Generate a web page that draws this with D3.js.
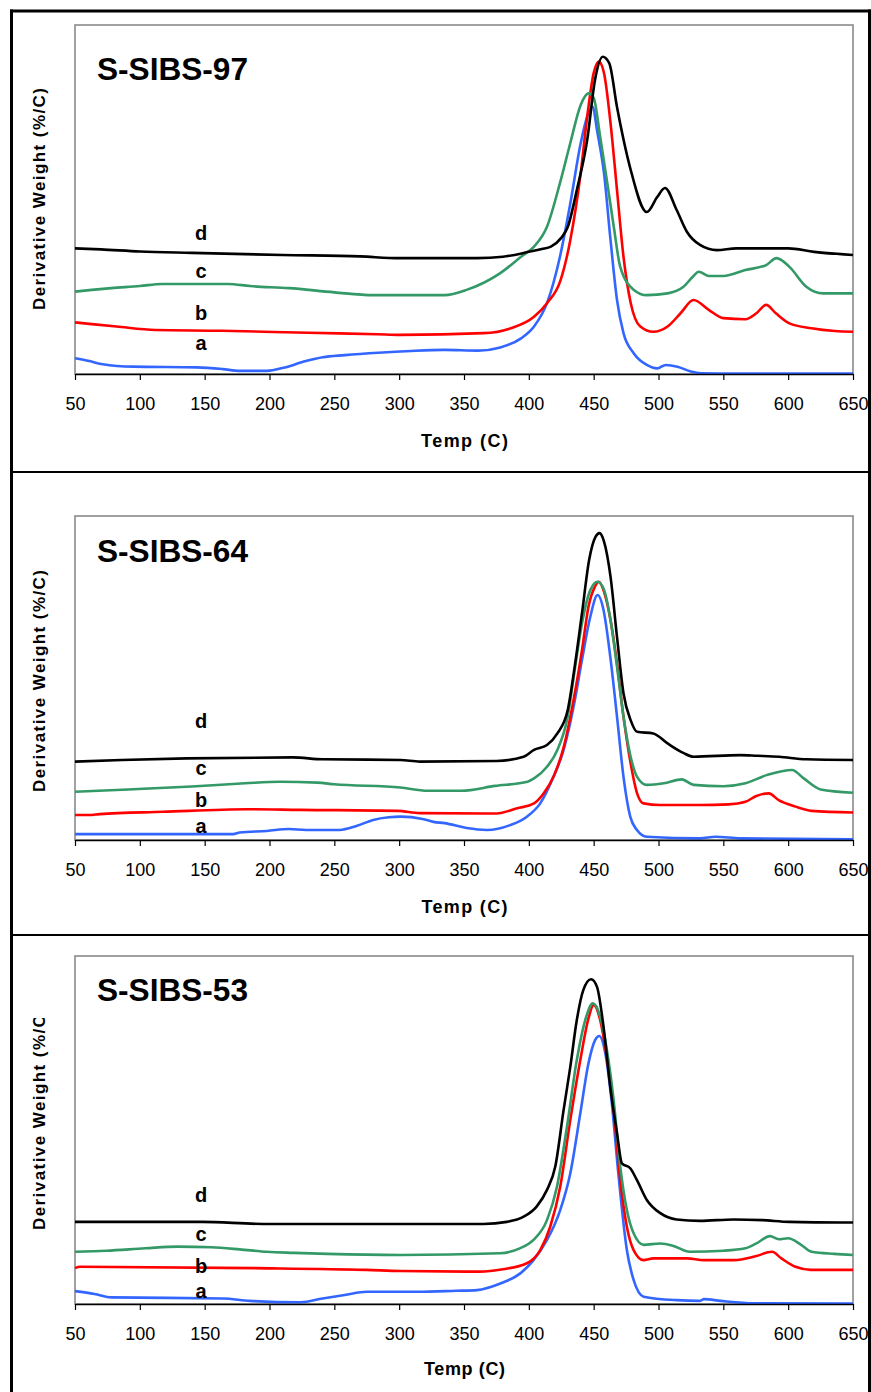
<!DOCTYPE html>
<html><head><meta charset="utf-8">
<script src="https://cdn.jsdelivr.net/npm/d3@7"></script>
<style>body{margin:0;background:#fff}svg{display:block}text{font-family:"Liberation Sans",Arial,sans-serif}</style>
</head><body>
<svg id="c" width="871" height="1392"></svg>
<script>
// ---- data (Temp C, derivative weight, relative units 0-100 of panel height) ----
const xTicks = [50,100,150,200,250,300,350,400,450,500,550,600,650];
const seriesLabels = ['a','b','c','d'];
const panelTitles = ['S-SIBS-97','S-SIBS-64','S-SIBS-53'];

const s97_a = [[50,4.5],[61,3.7],[71.5,2.8],[95,2.1],[144,1.9],[164,1.4],[177,0.9],[198,0.9],[211,1.8],[228,3.7],[241,4.8],[258,5.4],[284,6.1],[309,6.6],[335,6.9],[361,6.7],[378,7.6],[394,10.2],[404,13.6],[414,20.3],[424,33.6],[432,48.9],[440,66.1],[445,73.7],[449,76.6],[453,69.0],[458,57.5],[463,38.4],[468,21.2],[473,11.7],[481,5.9],[491,2.6],[499,1.6],[505.6,2.6],[514.6,2.1],[525,0.7],[533,0.2],[560,0.1],[650,0.1]];
const s97_b = [[50,14.8],[63,14.3],[82,13.6],[112,12.6],[163,12.4],[230,11.8],[283,11.4],[301,11.2],[365,11.7],[386,13.1],[404,16.4],[414,20.3],[424.5,26.9],[432,38.4],[440,57.6],[445,73.7],[450,86.2],[454,89.5],[458,86.2],[463,71.9],[468,52.7],[473,33.6],[478.6,20.3],[486,13.6],[496,12.1],[507,13.6],[517,17.4],[527,21.2],[539,18.3],[550,16.0],[567,15.7],[575.5,17.4],[583,19.8],[590.5,17.4],[601,14.5],[618,13.1],[636,12.3],[650,12.1]];
const s97_c = [[50,23.6],[63,24.1],[78,24.6],[100,25.2],[117,25.8],[168,25.8],[185,25.2],[215,24.6],[250,23.4],[280,22.6],[335,22.6],[352,24.1],[378,28.9],[394,33.6],[404,36.5],[414,42.2],[424,54.7],[432,66.2],[440,77.1],[446,80.4],[450,79.1],[455,68.0],[460.5,54.7],[465.5,42.2],[470.5,30.7],[481,24.1],[491,22.6],[507,23.1],[519,24.9],[527,28.1],[531,29.3],[539,28.1],[550,28.1],[567,29.8],[583,31.2],[591,33.2],[601,30.7],[614,25.0],[627,23.1],[650,23.1]];
const s97_d = [[50,36.0],[70,35.7],[100,35.1],[140,34.7],[210,34.1],[270,33.7],[300,33.2],[360,33.2],[380,33.6],[400,35.0],[410,35.8],[417,36.5],[425,39.0],[430,42.1],[437,52.7],[445,67.0],[451,84.2],[457,90.9],[462,89.1],[468,76.5],[478,59.3],[491,46.4],[499,50.7],[505,53.3],[514,47.0],[522,40.7],[532,37.0],[545,35.5],[560,36.0],[600,36.0],[620,35.0],[650,34.1]];

const s64_a = [[50,1.8],[172,1.8],[177,2.3],[198,2.8],[215,3.4],[228,3.1],[254,3.1],[267,4.3],[280,6.2],[292,7.0],[301,7.2],[318,6.5],[326.5,5.6],[335,5.2],[352,3.7],[367.7,3.1],[385.6,4.6],[398.5,7.2],[408.8,11.3],[419,19.5],[426.8,27.8],[434.5,41.1],[441,55.6],[447.4,68.9],[453,75.6],[457.6,71.0],[462.8,56.6],[468,38.1],[473,19.5],[478.2,7.2],[483.4,3.1],[491,1.0],[532,0.5],[544,1.0],[563,0.5],[650,0.2]];
const s64_b = [[50,7.7],[61,7.7],[69,8.0],[118,8.7],[183,9.5],[224,9.3],[299,9.0],[316,8.3],[367,8.2],[375,8.2],[391,9.8],[404,11.3],[411.5,14.4],[419,19.5],[427,28.8],[434.5,43.2],[441,58.6],[446,72.0],[451,78.2],[454,79.7],[458,76.6],[463,67.9],[468,54.5],[473,38.1],[478.5,23.7],[483.5,14.4],[488.5,11.3],[501,10.8],[532,10.8],[554,11.0],[567,11.8],[575.5,13.6],[585,14.4],[592.7,12.3],[605.6,10.3],[618,9.0],[650,8.5]];
const s64_c = [[50,14.9],[91,15.6],[140,16.5],[181,17.5],[208,18.0],[237,17.7],[250,17.2],[301,16.2],[322,15.2],[348,15.2],[374,16.7],[399,18.0],[404,19.0],[414,22.6],[422,27.8],[430,38.1],[435,51.4],[441,66.9],[447.5,77.2],[453,79.7],[458,77.2],[463,67.9],[468,53.5],[473,38.1],[478.5,25.7],[483.5,19.5],[491,17.0],[504,17.5],[518,18.7],[527,17.0],[550,16.6],[567,17.5],[584,20.1],[603,21.6],[612,19.0],[625,15.6],[650,14.6]];
const s64_d = [[50,24.2],[86,24.7],[136,25.2],[218,25.5],[241,24.9],[301,24.7],[316,24.2],[375,24.4],[396,25.7],[404,27.8],[414,29.3],[422,32.9],[430,40.1],[435,52.5],[441,70.0],[446.5,86.4],[451.5,93.6],[454.5,94.7],[458,92.1],[463,81.3],[468,62.7],[473,45.3],[478.5,37.0],[483.5,33.4],[496,32.9],[507,29.8],[519.5,26.8],[527,25.7],[563,26.2],[576,26.0],[593,25.7],[614,24.9],[650,24.7]];

const s53_a = [[50,3.7],[65,2.9],[78,1.9],[164,1.6],[185,0.9],[224,0.5],[241,1.6],[258,2.6],[275,3.5],[314,3.5],[344,3.8],[360,4.0],[378,5.9],[393.4,8.8],[403.6,12.6],[414,18.4],[424.2,27.0],[432,37.6],[439.7,54.8],[446,69.2],[451.2,75.9],[454.3,77.0],[459,72.0],[464,57.7],[469,37.6],[475.6,15.5],[480.8,6.9],[488.5,2.1],[514,1.1],[532,0.9],[535,1.4],[548,0.9],[574,0.2],[650,0.1]];
const s53_b = [[50,10.3],[54,10.7],[189,10.3],[275,9.8],[301,9.5],[362,9.3],[380,10.0],[398.5,11.7],[408.8,15.5],[416.5,22.2],[424.2,33.7],[432,52.9],[439.7,70.1],[446,82.1],[450,85.9],[455,81.6],[460,71.1],[465.4,55.7],[470.5,35.6],[475.6,22.2],[480.8,15.5],[488.5,12.6],[496,13.1],[522,13.1],[535,12.6],[558,12.6],[575.5,13.8],[587.5,15.0],[594.8,13.1],[605.6,10.7],[618,9.8],[650,9.8]];
const s53_c = [[50,15.0],[74,15.3],[104,16.0],[129,16.5],[155,16.3],[177,15.7],[198,15.0],[219,14.7],[245,14.4],[301,14.1],[378,14.6],[393,16.0],[403.6,18.4],[414,24.1],[421.7,33.7],[429.4,50.9],[437,70.1],[443.5,81.6],[449.4,86.4],[455,82.6],[460.2,73.0],[465.4,58.6],[470.5,39.5],[475.6,27.0],[480.8,20.3],[488.5,17.0],[501.4,17.4],[511.6,16.7],[524,15.0],[550,15.3],[567,16.0],[575.5,17.4],[586,19.5],[592.7,18.6],[600,18.9],[610,17.0],[618,15.0],[635.6,14.4],[650,14.1]];
const s53_d = [[50,23.6],[148,23.6],[195,23.0],[365,23.0],[383,23.6],[396,25.1],[406,28.0],[414,32.8],[420.4,39.5],[426.8,55.7],[432,68.2],[437,81.6],[442,90.2],[448,93.3],[452.5,91.2],[457.6,79.7],[462.8,62.4],[468,49.1],[471.8,40.4],[478.2,39.0],[483.4,35.6],[491,29.9],[501.4,26.1],[514,24.3],[532,23.9],[558,24.3],[580,24.1],[601,23.6],[650,23.4]];

// ---- styles / layout ----
const colors = ['#3366ff','#ff0000','#339966','#000000'];
const panels = [
  {title:panelTitles[0], series:[s97_a,s97_b,s97_c,s97_d], top:25, axis:374, titleY:80, xtY:446.7, xtLen:87, labY:[350,320,278,240], ytStart:310, clipTop:null},
  {title:panelTitles[1], series:[s64_a,s64_b,s64_c,s64_d], top:516, axis:840, titleY:562, xtY:912.7, xtLen:86, labY:[833,807,775,728], ytStart:792, clipTop:null},
  {title:panelTitles[2], series:[s53_a,s53_b,s53_c,s53_d], top:956, axis:1304, titleY:1001, xtY:1375, xtLen:81, labY:[1298,1273,1241,1202], ytStart:1230, clipTop:1018}
];
const L = 75, R = 853;
const svg = d3.select('#c');
const x = d3.scaleLinear().domain([50,650]).range([L,R]);

panels.forEach((p,i) => {
  const y = d3.scaleLinear().domain([0,100]).range([p.axis,p.top]);
  const g = svg.append('g');
  g.append('rect').attr('x',L).attr('y',p.top).attr('width',R-L).attr('height',p.axis-p.top)
    .attr('fill','none').attr('stroke','#8a8a8a').attr('stroke-width',1.6);
  const line = d3.line().x(d=>x(d[0])).y(d=>y(d[1])).curve(d3.curveMonotoneX);
  p.series.forEach((s,j) => {
    g.append('path').datum(s).attr('d',line).attr('fill','none')
      .attr('stroke',colors[j]).attr('stroke-width',2.6).attr('stroke-linejoin','round');
  });
  const ax = g.append('g').attr('transform',`translate(0,${p.axis})`)
    .call(d3.axisBottom(x).tickValues(xTicks).tickSize(6).tickSizeOuter(0).tickFormat(d3.format('d')));
  ax.select('.domain').attr('stroke','#000').attr('stroke-width',1.4);
  ax.selectAll('.tick line').attr('stroke','#000').attr('stroke-width',1.2);
  ax.selectAll('.tick text').attr('y',36).attr('dy',0).attr('fill','#000')
    .style('font-size','18px').style('font-family','"Liberation Sans",Arial,sans-serif');
  g.append('text').attr('x',464.5).attr('y',p.xtY).attr('text-anchor','middle')
    .attr('font-weight','bold').attr('font-size',18).attr('textLength',p.xtLen).attr('lengthAdjust','spacing')
    .text('Temp (C)');
  let yt = g;
  if (p.clipTop !== null) {
    const cid = 'clip'+i;
    svg.append('clipPath').attr('id',cid).append('rect')
      .attr('x',0).attr('y',p.clipTop).attr('width',70).attr('height',400);
    yt = g.append('g').attr('clip-path',`url(#${cid})`);
  }
  yt.append('text').attr('transform',`translate(45,${p.ytStart}) rotate(-90)`)
    .attr('font-weight','bold').attr('font-size',17).attr('textLength',222).attr('lengthAdjust','spacing')
    .text('Derivative Weight (%/C)');
  g.append('text').attr('x',97).attr('y',p.titleY).attr('font-weight','bold').attr('font-size',31)
    .attr('textLength',151).attr('lengthAdjust','spacingAndGlyphs').text(p.title);
  seriesLabels.forEach((lab,j) => {
    g.append('text').attr('x',201).attr('y',p.labY[j]).attr('text-anchor','middle')
      .attr('font-weight','bold').attr('font-size',20).text(lab);
  });
});

const fr = svg.append('g').attr('stroke','#000').attr('fill','none');
fr.append('line').attr('x1',11.5).attr('x2',11.5).attr('y1',9.5).attr('y2',1392).attr('stroke-width',3);
fr.append('line').attr('x1',869.5).attr('x2',869.5).attr('y1',9.5).attr('y2',1392).attr('stroke-width',3);
fr.append('line').attr('x1',10).attr('x2',871).attr('y1',11).attr('y2',11).attr('stroke-width',3);
fr.append('line').attr('x1',10).attr('x2',871).attr('y1',472).attr('y2',472).attr('stroke-width',2);
fr.append('line').attr('x1',10).attr('x2',871).attr('y1',935).attr('y2',935).attr('stroke-width',2);
</script>
</body></html>
